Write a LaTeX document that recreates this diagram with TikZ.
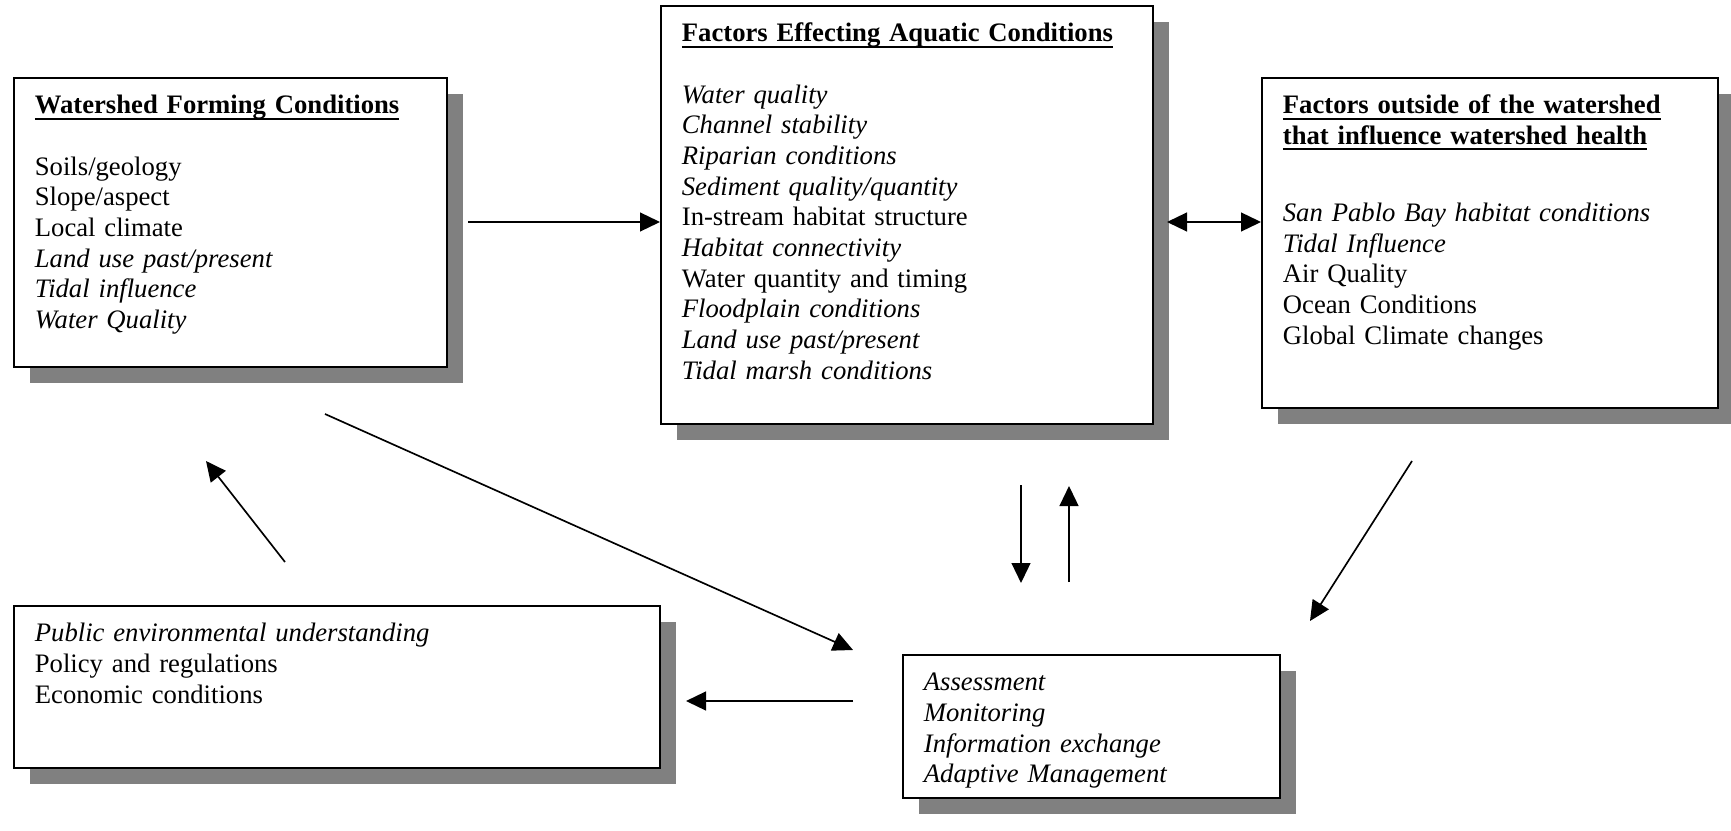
\documentclass[tikz,border=0pt]{standalone}
\usepackage{fontspec}
\setmainfont{Liberation Serif}
\usepackage{tikz}
\usetikzlibrary{arrows.meta, positioning, shadows}

\newcommand{\undertitle}[1]{\leavevmode\setbox0\hbox{\textbf{#1}}\copy0\llap{\rule[-2.7pt]{\wd0}{0.9pt}}}

\tikzset{
  factbox/.style={draw, line width=0.8pt, fill=white, anchor=north west, align=left,
    inner xsep=9.45pt, inner ysep=6.5pt, text height=9.66pt,
    font=\fontsize{12}{13.8}\selectfont,
    drop shadow={shadow xshift=7.2pt, shadow yshift=-7.2pt, fill=black!50, opacity=1}},
  flow/.style={line width=0.75pt, -{Triangle[length=9pt,width=8.5pt]}},
  twoway/.style={line width=0.75pt, {Triangle[length=9pt,width=8.5pt]}-{Triangle[length=9pt,width=8.5pt]}},
}

\begin{document}
\begin{tikzpicture}[x=0.45pt,y=0.45pt,yscale=-1,xscale=1]
\useasboundingbox (0,0) rectangle (1731,830);

% Boxes
\node[factbox, text width=175.95pt, text depth=107.39pt] (wfc) at (13,77)
  {\undertitle{Watershed Forming Conditions}\\[13.8pt]
   Soils/geology\\ Slope/aspect\\ Local climate\\
   \textit{Land use past/present}\\ \textit{Tidal influence}\\ \textit{Water Quality}};
\node[factbox, text width=202.5pt, text depth=165.44pt] (fac) at (660,5)
  {\undertitle{Factors Effecting Aquatic Conditions}\\[13.8pt]
   \textit{Water quality}\\ \textit{Channel stability}\\ \textit{Riparian conditions}\\
   \textit{Sediment quality/quantity}\\ In-stream habitat structure\\
   \textit{Habitat connectivity}\\ Water quantity and timing\\
   \textit{Floodplain conditions}\\ \textit{Land use past/present}\\
   \textit{Tidal marsh conditions}};
\node[factbox, text width=186.3pt, text depth=125.84pt] (fout) at (1261,77)
  {\undertitle{Factors outside of the watershed}\\
   \undertitle{that influence watershed health}\\[20.8pt]
   \textit{San Pablo Bay habitat conditions}\\ \textit{Tidal Influence}\\
   Air Quality\\ Ocean Conditions\\ Global Climate changes};
\node[factbox, text width=271.8pt, text depth=50.24pt] (soc) at (13,605)
  {\textit{Public environmental understanding}\\ Policy and regulations\\ Economic conditions};
\node[factbox, text width=150.75pt, text depth=41.69pt] (amon) at (902,654)
  {\textit{Assessment}\\ \textit{Monitoring}\\ \textit{Information exchange}\\ \textit{Adaptive Management}};

% Arrow ends
\coordinate (wfc out) at (468,222);
\coordinate (fac out) at (1167,222);
\coordinate (wfc low) at (325,414);
\coordinate (amon in) at (853,650);
\coordinate (soc up) at (285,562);
\coordinate (wfc back) at (206,461);
\coordinate (fac down) at (1021,485);
\coordinate (amon top) at (1021,583);
\coordinate (amon back) at (1069,582);
\coordinate (fac up) at (1069,486);
\coordinate (fout low) at (1412,461);
\coordinate (amon side) at (1310,621);
\coordinate (amon left) at (853,701);
\coordinate (soc in) at (686,701);

% Arrows
\draw[flow] (wfc out) -- (wfc out -| fac.west);
\draw[twoway] (fac out) -- (fac out -| fout.west);
\draw[flow] (wfc low) -- (amon in);
\draw[flow] (soc up) -- (wfc back);
\draw[flow] (fac down) -- (amon top);
\draw[flow] (amon back) -- (fac up);
\draw[flow] (fout low) -- (amon side);
\draw[flow] (amon left) -- (soc in);

\end{tikzpicture}
\end{document}
